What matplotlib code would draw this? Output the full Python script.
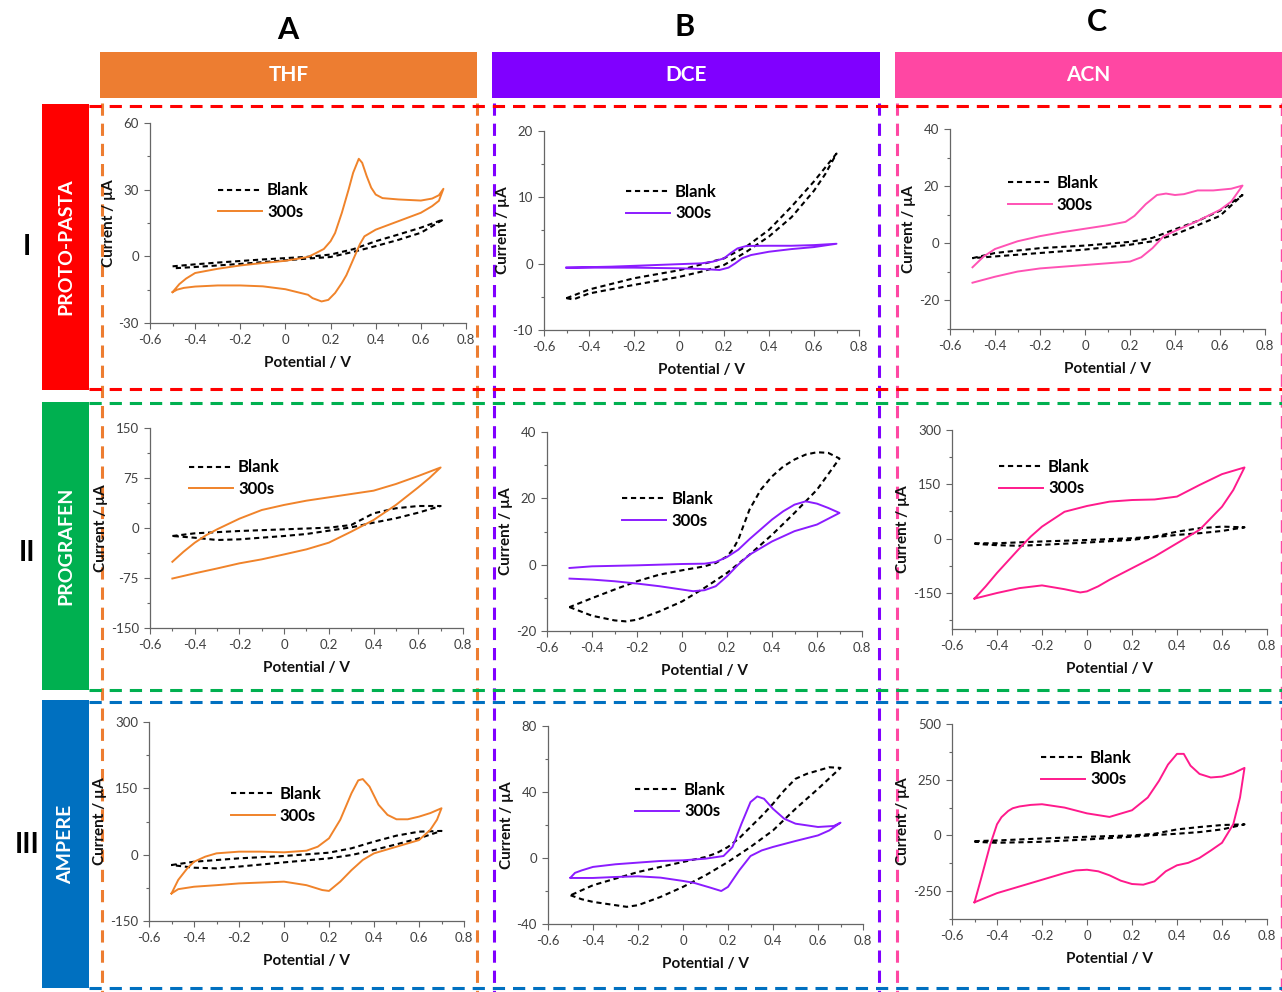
import matplotlib.pyplot as plt
from matplotlib.ticker import AutoMinorLocator, FuncFormatter

plt.rcParams['font.family'] = ['Lato', 'DejaVu Sans']
plt.rcParams['axes.unicode_minus'] = False

# ---- data (E in V, I in uA), forward scan then reverse ----
# Row I : PROTO-PASTA
E_IA_300 = [-0.5, -0.47, -0.44, -0.4, -0.3, -0.2, -0.1, 0.0, 0.1, 0.13, 0.17, 0.2, 0.22, 0.25, 0.28, 0.3, 0.325, 0.34,
            0.36, 0.38, 0.4, 0.43, 0.5, 0.6, 0.65, 0.68, 0.7,
            0.68, 0.65, 0.6, 0.5, 0.4, 0.35, 0.33, 0.3, 0.27, 0.25, 0.22, 0.19, 0.16, 0.12, 0.1, 0.0, -0.1, -0.2,
            -0.3, -0.4, -0.45, -0.48, -0.5]
I_IA_300 = [-16.1, -12.5, -10.0, -7.5, -5.6, -4.1, -3.0, -2.0, -0.3, 1.2, 3.3, 6.8, 10.5, 19.6, 30.1, 37.6, 43.9, 42.1,
            36.1, 30.9, 27.8, 26.2, 25.6, 25.1, 26.0, 27.5, 30.4,
            25.0, 22.6, 19.6, 15.8, 12.0, 9.0, 5.5, -1.5, -8.5, -12.0, -16.5, -19.6, -20.3, -18.8, -17.3, -14.8, -13.5, -13.1,
            -13.1, -13.6, -14.2, -15.0, -16.1]
E_IA_blank = [-0.5, -0.4, -0.3, -0.2, -0.1, 0.0, 0.1, 0.2, 0.3, 0.4, 0.5, 0.6, 0.7,
              0.6, 0.5, 0.4, 0.3, 0.2, 0.1, 0.0, -0.1, -0.2, -0.3, -0.4, -0.5]
I_IA_blank = [-4.5, -3.6, -2.8, -2.1, -1.4, -0.8, -0.2, 0.8, 3.2, 6.8, 9.8, 12.9, 16.6,
              10.6, 7.4, 4.6, 2.0, -0.3, -1.0, -1.8, -2.6, -3.4, -4.1, -4.8, -5.4]

E_IB_300 = [-0.5, -0.3, -0.1, 0.1, 0.15, 0.2, 0.23, 0.26, 0.3, 0.4, 0.5, 0.6, 0.7,
            0.6, 0.5, 0.4, 0.32, 0.28, 0.25, 0.22, 0.18, 0.1, 0.0, -0.2, -0.4, -0.5]
I_IB_300 = [-0.6, -0.45, -0.2, 0.05, 0.3, 0.8, 1.6, 2.3, 2.67, 2.7, 2.7, 2.8, 3.0,
            2.5, 2.2, 1.8, 1.3, 0.8, 0.05, -0.6, -0.95, -0.8, -0.7, -0.6, -0.6, -0.6]
E_IB_blank = [-0.5, -0.4, -0.2, 0.0, 0.1, 0.2, 0.3, 0.4, 0.5, 0.6, 0.7,
              0.65, 0.6, 0.5, 0.4, 0.3, 0.2, 0.1, 0.0, -0.2, -0.4, -0.47, -0.5]
I_IB_blank = [-5.2, -3.9, -2.2, -1.0, -0.1, 0.8, 2.6, 5.1, 8.6, 12.4, 16.6,
              13.5, 11.0, 7.0, 4.1, 1.8, -0.2, -1.2, -2.0, -3.2, -4.5, -5.4, -5.2]

E_IC_300 = [-0.5, -0.45, -0.4, -0.3, -0.2, -0.1, 0.0, 0.1, 0.18, 0.22, 0.27, 0.32, 0.36, 0.4, 0.44, 0.5, 0.57, 0.65, 0.7,
            0.65, 0.6, 0.5, 0.4, 0.35, 0.3, 0.25, 0.2, 0.1, 0.0, -0.2, -0.3, -0.4, -0.5]
I_IC_300 = [-8.4, -4.6, -2.0, 0.7, 2.5, 3.9, 5.1, 6.3, 7.5, 9.6, 13.7, 16.9, 17.4, 16.9, 17.2, 18.5, 18.5, 19.1, 20.2,
            14.6, 11.7, 7.8, 4.3, 2.5, -1.7, -4.9, -6.4, -7.0, -7.6, -8.8, -9.9, -11.7, -13.8]
E_IC_blank = [-0.5, -0.4, -0.2, 0.0, 0.2, 0.3, 0.4, 0.5, 0.6, 0.7,
              0.6, 0.5, 0.4, 0.3, 0.2, 0.0, -0.2, -0.4, -0.5]
I_IC_blank = [-5.2, -3.4, -1.7, -0.8, 0.5, 1.9, 4.9, 7.8, 11.4, 16.9,
              9.6, 6.3, 3.1, 0.7, -0.5, -2.2, -3.4, -4.6, -5.2]

# Row II : PROGRAFEN
E_IIA_300 = [-0.5, -0.45, -0.4, -0.35, -0.3, -0.2, -0.1, 0.0, 0.1, 0.2, 0.3, 0.4, 0.5, 0.6, 0.7,
             0.65, 0.6, 0.5, 0.4, 0.3, 0.2, 0.1, 0.0, -0.1, -0.2, -0.3, -0.4, -0.5]
I_IIA_300 = [-50.7, -35.6, -22.1, -11.0, -2.0, 14.0, 27.0, 34.6, 41.0, 46.0, 51.0, 56.0, 66.0, 78.0, 90.8,
             75.0, 61.0, 34.6, 12.0, -5.5, -22.0, -32.0, -39.6, -47.0, -53.0, -60.7, -68.0, -75.8]
E_IIA_blank = [-0.5, -0.4, -0.2, 0.0, 0.2, 0.3, 0.4, 0.5, 0.6, 0.7,
               0.6, 0.5, 0.4, 0.3, 0.2, 0.1, 0.0, -0.2, -0.3, -0.4, -0.5]
I_IIA_blank = [-12.0, -8.0, -4.5, -2.0, 0.5, 4.5, 22.0, 29.6, 33.0, 33.0,
               23.0, 14.6, 8.0, 1.0, -4.0, -9.0, -12.0, -17.0, -18.0, -14.6, -12.0]

E_IIB_300 = [-0.5, -0.4, -0.2, 0.0, 0.1, 0.15, 0.2, 0.25, 0.3, 0.4, 0.45, 0.5, 0.55, 0.6, 0.65, 0.7,
             0.6, 0.5, 0.4, 0.3, 0.25, 0.2, 0.15, 0.1, 0.05, 0.0, -0.1, -0.2, -0.3, -0.4, -0.5]
I_IIB_300 = [-1.0, -0.5, -0.2, 0.2, 0.3, 0.8, 2.3, 4.5, 7.7, 13.6, 16.1, 18.1, 19.1, 18.4, 17.1, 15.6,
             12.1, 10.1, 7.0, 3.0, 0.0, -3.5, -6.5, -7.7, -8.0, -7.5, -6.5, -5.7, -5.0, -4.5, -4.2]
E_IIB_blank = [-0.5, -0.4, -0.3, -0.25, -0.2, -0.1, 0.0, 0.1, 0.2, 0.3, 0.4, 0.5, 0.6, 0.7,
               0.65, 0.6, 0.55, 0.5, 0.45, 0.4, 0.35, 0.3, 0.275, 0.25, 0.225, 0.2, 0.15, 0.1, 0.0, -0.1, -0.2,
               -0.3, -0.4, -0.5]
I_IIB_blank = [-12.8, -15.4, -16.8, -17.1, -16.6, -14.1, -11.1, -7.0, -2.5, 3.0, 9.0, 15.6, 22.6, 32.0,
               33.7, 33.9, 33.2, 31.7, 29.6, 26.6, 22.6, 16.6, 12.1, 7.5, 4.5, 2.5, 0.5, -0.5, -1.7, -3.0, -5.0,
               -7.5, -10.1, -12.8]

E_IIC_300 = [-0.5, -0.45, -0.4, -0.3, -0.25, -0.2, -0.1, 0.0, 0.1, 0.2, 0.3, 0.4, 0.5, 0.6, 0.7,
             0.65, 0.6, 0.5, 0.45, 0.4, 0.3, 0.2, 0.1, 0.05, 0.0, -0.03, -0.1, -0.2, -0.3, -0.4, -0.5]
I_IIC_300 = [-166, -132, -95, -27, 5.5, 33, 74, 90, 102, 106.5, 108, 116, 148, 178, 196.5,
             134, 88, 24, 5.5, -13, -50, -82, -114, -132, -146, -149, -140, -129.5, -137, -150.5, -166]
E_IIC_blank = [-0.5, -0.4, -0.2, 0.0, 0.2, 0.3, 0.4, 0.5, 0.6, 0.7,
               0.6, 0.5, 0.4, 0.3, 0.2, 0.0, -0.2, -0.3, -0.4, -0.5]
I_IIC_blank = [-13, -13, -8, -4, 1, 5.5, 19, 28.5, 33, 31,
               21, 14.7, 10, 3.7, -3.7, -11, -17.4, -20, -18.4, -14.7]

# Row III : AMPERE
E_IIIA_300 = [-0.5, -0.47, -0.43, -0.4, -0.35, -0.3, -0.2, -0.1, 0.0, 0.1, 0.15, 0.2, 0.25, 0.3, 0.33, 0.35, 0.38,
              0.42, 0.46, 0.5, 0.55, 0.6, 0.65, 0.7,
              0.68, 0.65, 0.6, 0.5, 0.4, 0.35, 0.3, 0.25, 0.2, 0.17, 0.1, 0.0, -0.1, -0.2, -0.3, -0.4, -0.47, -0.5]
I_IIIA_300 = [-87.7, -57, -31, -16, -4.5, 3, 6.8, 6.8, 5.3, 9, 18, 37, 79, 139, 168, 171, 154,
              113, 90, 80, 80, 86, 94, 105,
              79, 56, 33, 18, 3, -12, -35, -61, -82, -80, -69, -61, -63, -65, -69, -72.5, -78, -87.7]
E_IIIA_blank = [-0.5, -0.4, -0.2, 0.0, 0.2, 0.3, 0.4, 0.5, 0.6, 0.7,
                0.6, 0.5, 0.4, 0.3, 0.2, 0.0, -0.2, -0.3, -0.4, -0.5]
I_IIIA_blank = [-23.4, -16, -8.3, -3, 4.5, 14.4, 29.5, 43, 52, 53.7,
                37, 23.4, 10.6, -0.8, -8.3, -17.4, -27, -31, -29.5, -23.4]

E_IIIB_300 = [-0.5, -0.48, -0.45, -0.4, -0.3, -0.2, -0.1, 0.0, 0.1, 0.18, 0.22, 0.26, 0.3, 0.33, 0.36, 0.4, 0.45,
              0.5, 0.6, 0.67, 0.7,
              0.65, 0.6, 0.5, 0.4, 0.35, 0.3, 0.25, 0.2, 0.17, 0.12, 0.05, 0.0, -0.1, -0.2, -0.3, -0.4, -0.5]
I_IIIB_300 = [-11.9, -9.0, -7.5, -5.4, -3.8, -2.8, -1.8, -1.4, -0.4, 1.2, 6.7, 20.8, 33.9, 37.3, 35.9, 29.8, 23.8,
              20.8, 18.8, 19.4, 21.4,
              16.7, 13.7, 10.3, 6.7, 4.6, 1.2, -7.5, -17.5, -20.0, -17.9, -15.1, -13.9, -11.9, -11.1, -11.5, -12.1, -12.1]
E_IIIB_blank = [-0.5, -0.45, -0.4, -0.3, -0.25, -0.2, -0.1, 0.0, 0.1, 0.2, 0.3, 0.4, 0.5, 0.6, 0.7,
                0.65, 0.6, 0.55, 0.5, 0.45, 0.4, 0.35, 0.3, 0.25, 0.2, 0.15, 0.1, 0.0, -0.1, -0.2, -0.3, -0.4, -0.5]
I_IIIB_blank = [-22.6, -25.0, -26.6, -28.6, -29.6, -28.6, -23.6, -17.5, -10.5, -2.4, 6.7, 16.7, 29.8, 41.9, 54.6,
                55.0, 53.0, 51.0, 48.0, 41.0, 32.9, 25.5, 18.8, 12.0, 6.7, 3.0, 0.6, -2.4, -5.4, -8.5, -12.5, -16.5, -22.6]

E_IIIC_300 = [-0.5, -0.47, -0.43, -0.4, -0.38, -0.35, -0.33, -0.3, -0.25, -0.2, -0.1, 0.0, 0.1, 0.2, 0.27, 0.32, 0.36,
              0.4, 0.43, 0.46, 0.5, 0.55, 0.6, 0.65, 0.7,
              0.68, 0.65, 0.6, 0.55, 0.5, 0.45, 0.4, 0.35, 0.3, 0.25, 0.2, 0.15, 0.1, 0.05, 0.0, -0.05, -0.1, -0.2,
              -0.3, -0.4, -0.5]
I_IIIC_300 = [-300, -191, -41, 50, 82, 110, 122, 130, 137, 140, 125, 99, 83, 113, 170, 245, 318,
              366, 366, 313, 276, 260, 264, 279, 303,
              170, 50, -33, -68, -101, -123, -134, -161, -206, -221, -218, -203, -179, -161, -154, -157, -169, -199,
              -229, -259, -300]
E_IIIC_blank = [-0.5, -0.4, -0.2, 0.0, 0.2, 0.3, 0.4, 0.5, 0.6, 0.7,
                0.6, 0.5, 0.4, 0.3, 0.2, 0.0, -0.2, -0.4, -0.5]
I_IIIC_blank = [-25.6, -22.6, -13.6, -6, 0, 7.5, 27, 37.7, 46.7, 49.7,
                27, 15, 7.5, 1.5, -6, -18, -28.6, -33, -28.6]

x_ticks = [-0.6, -0.4, -0.2, 0, 0.2, 0.4, 0.6, 0.8]
solvents = ['THF', 'DCE', 'ACN']
materials = ['PROTO-PASTA', 'PROGRAFEN', 'AMPERE']
col_letters = ['A', 'B', 'C']
row_numerals = ['I', 'II', 'III']

# ---- styles ----
W, H = 1282, 992
col_colors = ['#ED7D31', '#8000FF', '#FF47A3']
row_colors = ['#FF0000', '#00B050', '#0070C0']
curve_colors = [['#F0832A', '#8B1CFF', '#FF52B4'],
                ['#F0832A', '#8B1CFF', '#FF1A8C'],
                ['#F0832A', '#8B1CFF', '#FF1A8C']]

panels = [
    # (row, col, axes box l,t,r,b in px, ylim, yticks, legend anchor, E300, I300, Eblank, Iblank)
    (0, 0, (150, 123, 466, 323), (-30, 60), [-30, 0, 30, 60], (0.215, 0.608), E_IA_300, I_IA_300, E_IA_blank, I_IA_blank),
    (0, 1, (544, 131, 859, 330), (-10, 20), [-10, 0, 10, 20], (0.26, 0.641), E_IB_300, I_IB_300, E_IB_blank, I_IB_blank),
    (0, 2, (950, 129, 1265, 329), (-30, 40), [-20, 0, 20, 40], (0.183, 0.677), E_IC_300, I_IC_300, E_IC_blank, I_IC_blank),
    (1, 0, (150, 428, 463, 628), (-150, 150), [-150, -75, 0, 75, 150], (0.124, 0.748), E_IIA_300, I_IIA_300, E_IIA_blank, I_IIA_blank),
    (1, 1, (547, 432, 862, 631), (-20, 40), [-20, 0, 20, 40], (0.238, 0.608), E_IIB_300, I_IIB_300, E_IIB_blank, I_IIB_blank),
    (1, 2, (952, 430, 1267, 629), (-250, 300), [-150, 0, 150, 300], (0.149, 0.761), E_IIC_300, I_IIC_300, E_IIC_blank, I_IIC_blank),
    (2, 0, (149, 722, 464, 921), (-150, 300), [-150, 0, 150, 300], (0.259, 0.583), E_IIIA_300, I_IIIA_300, E_IIIA_blank, I_IIIA_blank),
    (2, 1, (548, 726, 863, 924), (-40, 80), [-40, 0, 40, 80], (0.276, 0.624), E_IIIB_300, I_IIIB_300, E_IIIB_blank, I_IIIB_blank),
    (2, 2, (952, 724, 1267, 919), (-375, 500), [-250, 0, 250, 500], (0.282, 0.772), E_IIIC_300, I_IIIC_300, E_IIIC_blank, I_IIIC_blank),
]

fig = plt.figure(figsize=(W / 100, H / 100), dpi=100)
fig.patch.set_facecolor('white')

# background layer in pixel coordinates for bars, frames and labels
bg = fig.add_axes([0, 0, 1, 1])
bg.set_xlim(0, W)
bg.set_ylim(H, 0)
bg.axis('off')

header_x = [(100, 477), (492, 880), (895, 1282)]
letter_pos = [(288, 30), (685, 27), (1097, 22)]
for j in range(3):
    x0, x1 = header_x[j]
    bg.add_patch(plt.Rectangle((x0, 52), x1 - x0, 46, color=col_colors[j], lw=0))
    bg.text((x0 + x1) / 2, 75, solvents[j], color='white', fontsize=15, fontweight='bold', ha='center', va='center')
    bg.text(letter_pos[j][0], letter_pos[j][1], col_letters[j], fontsize=22, fontweight='bold', ha='center', va='center')

row_y = [(104, 390), (402, 690), (700, 988)]
numeral_y = [247, 553, 845]
for i in range(3):
    y0, y1 = row_y[i]
    bg.add_patch(plt.Rectangle((42, y0), 47, y1 - y0, color=row_colors[i], lw=0))
    bg.text(65.5, (y0 + y1) / 2, materials[i], color='white', fontsize=14, fontweight='bold', rotation=90,
            ha='center', va='center')
    bg.text(27, numeral_y[i], row_numerals[i], fontsize=20, fontweight='bold', ha='center', va='center')

# dashed frames: columns (vertical) and rows (horizontal)
col_frame_x = [(102, 477), (494, 879), (897, 1281)]
for j in range(3):
    for k, x in enumerate(col_frame_x[j]):
        lw = 1.0 if (j == 2 and k == 1) else 2.2
        bg.plot([x, x], [103, 992], color=col_colors[j], lw=lw, dashes=(4, 2.6) if lw > 2 else (9, 6))
row_frame_y = [(106, 389), (403, 690), (702, 988)]
for i in range(3):
    for y in row_frame_y[i]:
        bg.plot([89, 1282], [y, y], color=row_colors[i], lw=2.2, dashes=(4, 2.6))

fmt = FuncFormatter(lambda v, p: f'{v:g}')

for (r, c, box, ylim, yticks, leg, E300, I300, Eb, Ib) in panels:
    l, t, rr, b = box
    ax = fig.add_axes([l / W, 1 - b / H, (rr - l) / W, (b - t) / H])
    ax.set_facecolor('none')
    lb, = ax.plot(Eb, Ib, color='black', lw=1.5, dashes=(2.5, 1.8), label='Blank')
    l3, = ax.plot(E300, I300, color=curve_colors[r][c], lw=1.4, label='300s')
    ax.set_xlim(-0.6, 0.8)
    ax.set_ylim(*ylim)
    ax.set_xticks(x_ticks)
    ax.set_yticks(yticks)
    ax.xaxis.set_major_formatter(fmt)
    ax.yaxis.set_major_formatter(fmt)
    ax.xaxis.set_minor_locator(AutoMinorLocator(2))
    ax.yaxis.set_minor_locator(AutoMinorLocator(2))
    for s in ['top', 'right']:
        ax.spines[s].set_visible(False)
    for s in ['left', 'bottom']:
        ax.spines[s].set_color('#666666')
        ax.spines[s].set_linewidth(0.9)
    ax.tick_params(which='major', direction='out', length=4.5, width=0.8, colors='#666666',
                   labelcolor='#404040', labelsize=9.5)
    ax.tick_params(which='minor', direction='out', length=2.5, width=0.8, colors='#666666')
    ax.set_xlabel('Potential / V', fontsize=11, fontweight='bold', labelpad=7, color='#111111')
    ax.set_ylabel('Current / µA', fontsize=11, fontweight='bold', labelpad=2, color='#111111')
    ax.legend(handles=[lb, l3], loc='center left', bbox_to_anchor=leg, frameon=False,
              prop={'weight': 'bold', 'size': 12}, handlelength=2.65, handletextpad=0.3,
              labelspacing=0.35, borderpad=0, borderaxespad=0)

fig.savefig('out.png', dpi=100)
